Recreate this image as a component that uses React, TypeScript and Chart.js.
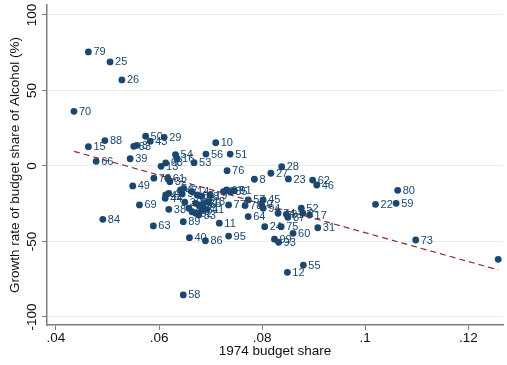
import React, { useEffect, useRef } from "react";
import { Chart, registerables } from "chart.js";

Chart.register(...registerables);

// Point labels (ids) with their 1974 budget share and growth rate
const pointLabels = [
  "79", "25", "26", "70", "88", "15", "66", "50", "29", "43",
  "83", "3", "39", "49", "69", "84", "63", "54", "16", "53",
  "10", "56", "51", "76", "8", "27", "28", "23", "62", "46",
  "22", "80", "59", "73", "", "13", "68", "72", "61", "32",
  "42", "44", "4", "47", "1", "5", "14", "65", "48", "19",
  "30", "34", "35", "36", "18", "38", "20", "90", "92", "33",
  "71", "41", "89", "11", "40", "86", "95", "58", "6", "67",
  "85", "91", "77", "57", "78", "45", "9", "94", "64", "74",
  "81", "87", "52", "2", "17", "75", "24", "31", "60", "99",
  "93", "12", "55",
];
const budgetShare = [
  0.0463, 0.0505, 0.0528, 0.0435, 0.0495, 0.0463, 0.0478, 0.0574, 0.061, 0.0583,
  0.0551, 0.0557, 0.0544, 0.0549, 0.0562, 0.0491, 0.0589, 0.0632, 0.0635, 0.0668,
  0.071, 0.0691, 0.0738, 0.0732, 0.0785, 0.0817, 0.0838, 0.0851, 0.0898, 0.0906,
  0.102, 0.1063, 0.106, 0.1098, 0.1258, 0.0604, 0.0613, 0.059, 0.0617, 0.0621,
  0.0613, 0.0612, 0.0619, 0.0642, 0.0648, 0.0645, 0.0664, 0.0674, 0.0683, 0.0699,
  0.065, 0.0671, 0.0677, 0.0687, 0.0695, 0.0619, 0.0658, 0.0664, 0.0671, 0.0677,
  0.0683, 0.0693, 0.0647, 0.0717, 0.0659, 0.069, 0.0735, 0.0647, 0.0725, 0.0731,
  0.0738, 0.0746, 0.0735, 0.0773, 0.0767, 0.0802, 0.0799, 0.0802, 0.0773, 0.0831,
  0.0847, 0.085, 0.0876, 0.0879, 0.0892, 0.0837, 0.0805, 0.0908, 0.086, 0.0824,
  0.0832, 0.0849, 0.088,
];
const growthRate = [
  75.5, 68.9, 57.0, 36.2, 16.8, 12.8, 3.1, 19.7, 19.0, 16.4,
  13.0, 13.7, 4.8, -13.2, -25.8, -35.3, -39.7, 7.5, 4.8, 2.2,
  15.4, 7.9, 7.9, -3.1, -8.8, -4.8, -0.5, -8.6, -9.3, -12.6,
  -25.4, -16.1, -24.7, -49.0, -61.8, -0.2, 2.0, -8.1, -8.1, -10.4,
  -19.2, -21.4, -18.1, -15.9, -14.8, -18.5, -17.0, -19.2, -19.9, -19.2,
  -24.0, -24.7, -25.8, -24.7, -23.6, -28.7, -28.0, -30.3, -31.3, -32.5,
  -29.1, -28.7, -36.9, -37.9, -47.5, -49.5, -46.4, -85.4, -17.0, -15.9,
  -17.0, -16.4, -25.8, -22.5, -26.2, -22.5, -25.8, -28.0, -33.5, -31.3,
  -32.0, -34.0, -28.0, -31.3, -32.5, -40.2, -40.2, -40.9, -44.6, -48.5,
  -50.5, -70.4, -65.6,
];

// Linear fit line end points
const fitShare = [0.0435, 0.1258];
const fitGrowth = [9.7, -68.8];

const xTickValues = [0.04, 0.06, 0.08, 0.1, 0.12];
const xTickLabels = [".04", ".06", ".08", ".1", ".12"];
const yTickValues = [-100, -50, 0, 50, 100];
const yTickLabels = ["-100", "-50", "0", "50", "100"];

const FONT = '"Liberation Sans", Arial, Helvetica, sans-serif';
const NAVY = "#1a476f";
const AXIS = "#7f7f7f";

const pointLabelPlugin = {
  id: "pointLabelPlugin",
  afterDatasetsDraw(chart: any) {
    const meta = chart.getDatasetMeta(0);
    const ctx = chart.ctx;
    ctx.save();
    ctx.font = `11px ${FONT}`;
    ctx.fillStyle = NAVY;
    ctx.textAlign = "left";
    ctx.textBaseline = "middle";
    meta.data.forEach((el: any, i: number) => {
      ctx.fillText(pointLabels[i], el.x + 5, el.y + 0.5);
    });
    ctx.restore();
  },
};

const yTickLabelPlugin = {
  id: "yTickLabelPlugin",
  afterDraw(chart: any) {
    const scale = chart.scales.y;
    const ctx = chart.ctx;
    ctx.save();
    ctx.font = `13.5px ${FONT}`;
    ctx.fillStyle = "#111";
    ctx.textAlign = "center";
    ctx.textBaseline = "middle";
    yTickValues.forEach((v, i) => {
      const py = scale.getPixelForValue(v);
      ctx.save();
      ctx.translate(scale.right - 14.5, py);
      ctx.rotate(-Math.PI / 2);
      ctx.fillText(yTickLabels[i], 0, 0);
      ctx.restore();
    });
    ctx.restore();
  },
};

export default function App() {
  const canvasRef = useRef<HTMLCanvasElement | null>(null);

  useEffect(() => {
    if (!canvasRef.current) return;
    const chart = new Chart(canvasRef.current, {
      type: "scatter",
      data: {
        datasets: [
          {
            type: "scatter",
            data: budgetShare.map((x, i) => ({ x, y: growthRate[i] })),
            backgroundColor: NAVY,
            borderColor: NAVY,
            borderWidth: 0,
            pointRadius: 3.4,
            order: 1,
          },
          {
            type: "line",
            data: fitShare.map((x, i) => ({ x, y: fitGrowth[i] })),
            borderColor: "#8f2d33",
            borderWidth: 1.2,
            borderDash: [6, 4],
            pointRadius: 0,
            fill: false,
            order: 0,
          },
        ],
      } as any,
      options: {
        animation: false,
        responsive: false,
        devicePixelRatio: 1,
        layout: { padding: { top: 5, right: 0, left: 0, bottom: 0 } },
        plugins: {
          legend: { display: false },
          tooltip: { enabled: false },
        },
        scales: {
          x: {
            type: "linear",
            min: 0.038269,
            max: 0.12673,
            afterBuildTicks: (s: any) => {
              s.ticks = xTickValues.map((v) => ({ value: v }));
            },
            afterFit: (s: any) => {
              s.height = 40;
            },
            ticks: {
              callback: (_v: any, i: number) => xTickLabels[i],
              font: { family: FONT, size: 13.5 },
              color: "#111",
              padding: 0,
              maxRotation: 0,
              autoSkip: false,
            },
            grid: {
              drawOnChartArea: false,
              drawTicks: true,
              tickLength: 5,
              tickColor: AXIS,
              color: AXIS,
            },
            border: { display: true, color: AXIS, width: 1.5 },
            title: {
              display: true,
              text: "1974 budget share",
              font: { family: FONT, size: 13.5 },
              color: "#111",
              padding: { top: 0, bottom: 6 },
            },
          },
          y: {
            type: "linear",
            min: -105.3,
            max: 106.6,
            afterBuildTicks: (s: any) => {
              s.ticks = yTickValues.map((v) => ({ value: v }));
            },
            afterFit: (s: any) => {
              s.width = 47;
            },
            ticks: { display: false },
            grid: {
              color: "#e6eef0",
              lineWidth: 1,
              drawTicks: true,
              tickLength: 5,
              tickColor: AXIS,
            },
            border: { display: true, color: AXIS, width: 1.5 },
            title: {
              display: true,
              text: "Growth rate of budget share of Alcohol (%)",
              font: { family: FONT, size: 13.5 },
              color: "#111",
              padding: { top: 7, bottom: 0 },
            },
          },
        },
      } as any,
      plugins: [pointLabelPlugin, yTickLabelPlugin],
    });
    return () => chart.destroy();
  }, []);

  return (
    <div style={{ position: "fixed", left: 0, top: 0, width: 507, height: 365, background: "#fff" }}>
      <canvas ref={canvasRef} width={507} height={365} />
    </div>
  );
}
